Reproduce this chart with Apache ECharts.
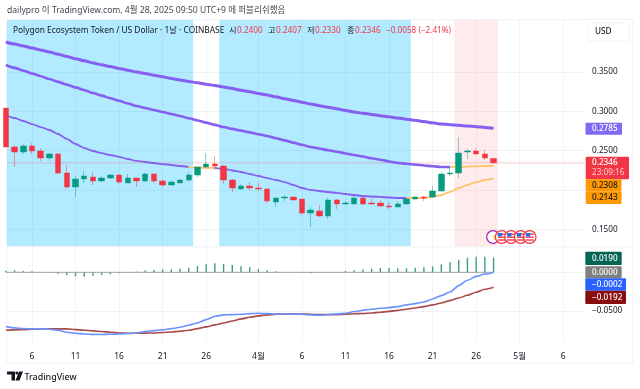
<!DOCTYPE html>
<html><head><meta charset="utf-8">
<style>html,body{margin:0;padding:0;background:#fff}#c{width:640px;height:389px}</style>
<script src="https://cdn.jsdelivr.net/npm/echarts@6/dist/echarts.min.js"></script>
</head><body><div id="c"></div>
<script>
const opens=[.3042,.2546,.2482,.2559,.2495,.2406,.2457,.2215,.2037,.2139,.2164,.2113,.2151,.2189,.2088,.2151,.2113,.2202,.2113,.2062,.2088,.2126,.2189,.2291,.2329,.2304,.2126,.2011,.2050,.2024,.2011,.1846,.1897,.1910,.1884,.1706,.1732,.1668,.1872,.1821,.1821,.1897,.1833,.1833,.1795,.1782,.1821,.1884,.1910,.1910,.1986,.2202,.2215,.2482,.2495,.2457,.2400];
const closes=[.2546,.2482,.2559,.2495,.2406,.2457,.2215,.2037,.2139,.2177,.2113,.2151,.2189,.2100,.2151,.2113,.2202,.2113,.2062,.2100,.2126,.2189,.2291,.2329,.2304,.2126,.2024,.2050,.2024,.2011,.1859,.1897,.1910,.1872,.1706,.1744,.1668,.1872,.1821,.1833,.1897,.1821,.1821,.1795,.1782,.1821,.1884,.1910,.1897,.1986,.2202,.2215,.2469,.2495,.2457,.2406,.2346];
const highs=[.3042,.2571,.2584,.2597,.2533,.2469,.2469,.2317,.2177,.2240,.2228,.2177,.2202,.2202,.2202,.2151,.2215,.2215,.2139,.2126,.2139,.2228,.2291,.2469,.2431,.2317,.2139,.2075,.2100,.2088,.2024,.1910,.1935,.1910,.1884,.1782,.1808,.1897,.1884,.1859,.1922,.1922,.1884,.1872,.1846,.1859,.1897,.1922,.1922,.2050,.2228,.2291,.2673,.2520,.2533,.2508,.2407];
const lows=[.2546,.2291,.2457,.2457,.2368,.2368,.2202,.2011,.1910,.2088,.2062,.2100,.2139,.2075,.2088,.2037,.2100,.2088,.2037,.2050,.2088,.2100,.2164,.2279,.2253,.2075,.1973,.1999,.1999,.1986,.1833,.1782,.1859,.1859,.1681,.1528,.1655,.1630,.1757,.1808,.1821,.1808,.1808,.1782,.1757,.1782,.1808,.1872,.1859,.1897,.1973,.2177,.2151,.2393,.2444,.2380,.2330];
const maSlow=[.3882,.3856,.3831,.3805,.3780,.3754,.3726,.3698,.3670,.3642,.3615,.3592,.3569,.3546,.3523,.3500,.3480,.3459,.3439,.3418,.3398,.3380,.3362,.3345,.3327,.3309,.3289,.3268,.3248,.3227,.3207,.3184,.3161,.3139,.3116,.3093,.3072,.3052,.3032,.3011,.2991,.2976,.2961,.2945,.2930,.2915,.2900,.2885,.2869,.2854,.2838,.2830,.2822,.2813,.2805,.2795,.2785];
const maMid=[.3589,.3553,.3518,.3482,.3447,.3411,.3375,.3340,.3304,.3269,.3233,.3200,.3167,.3134,.3100,.3067,.3042,.3016,.2991,.2965,.2940,.2912,.2884,.2856,.2828,.2800,.2777,.2754,.2732,.2709,.2686,.2658,.2630,.2602,.2574,.2546,.2526,.2505,.2485,.2464,.2444,.2424,.2403,.2383,.2362,.2342,.2332,.2322,.2311,.2301,.2291,.2291,.2293,.2296,.2300,.2304,.2308];
const maFast=[.2953,.2915,.2877,.2838,.2800,.2762,.2711,.2648,.2584,.2533,.2495,.2469,.2444,.2419,.2393,.2368,.2355,.2342,.2329,.2317,.2304,.2291,.2285,.2279,.2279,.2266,.2247,.2228,.2202,.2177,.2151,.2126,.2100,.2062,.2024,.1999,.1986,.1973,.1961,.1948,.1935,.1922,.1916,.1910,.1903,.1897,.1897,.1897,.1897,.1910,.1935,.1973,.2024,.2062,.2100,.2126,.2143];
const histogram=[.0020,.0026,.0017,.0013,.0004,-.0004,-.0017,-.0039,-.0052,-.0056,-.0043,-.0034,-.0026,-.0013,-.0004,.0009,.0022,.0030,.0039,.0039,.0047,.0060,.0082,.0103,.0116,.0108,.0095,.0077,.0065,.0043,.0026,.0013,.0004,.0002,-.0004,-.0013,-.0004,-.0004,-.0004,.0017,.0026,.0039,.0047,.0056,.0056,.0052,.0052,.0060,.0065,.0077,.0103,.0129,.0163,.0189,.0202,.0202,.0190];
const macdLine=[-.0701,-.0718,-.0727,-.0731,-.0731,-.0735,-.0748,-.0774,-.0787,-.0796,-.0802,-.0804,-.0800,-.0796,-.0791,-.0783,-.0765,-.0753,-.0744,-.0727,-.0710,-.0684,-.0654,-.0611,-.0568,-.0550,-.0546,-.0542,-.0533,-.0529,-.0533,-.0538,-.0538,-.0538,-.0542,-.0550,-.0555,-.0546,-.0538,-.0529,-.0507,-.0490,-.0477,-.0464,-.0456,-.0443,-.0421,-.0404,-.0383,-.0344,-.0301,-.0254,-.0172,-.0103,-.0052,-.0022,-.0002];
const signalLine=[-.0748,-.0744,-.0740,-.0735,-.0733,-.0731,-.0731,-.0731,-.0740,-.0748,-.0757,-.0765,-.0774,-.0783,-.0787,-.0787,-.0785,-.0783,-.0778,-.0770,-.0761,-.0748,-.0727,-.0705,-.0679,-.0654,-.0628,-.0602,-.0581,-.0563,-.0550,-.0542,-.0538,-.0535,-.0538,-.0542,-.0546,-.0546,-.0546,-.0542,-.0535,-.0531,-.0525,-.0516,-.0505,-.0492,-.0477,-.0460,-.0443,-.0421,-.0396,-.0366,-.0331,-.0297,-.0258,-.0219,-.0192];
const zeroLine=[0,0,0,0,0,0,0,0,0,0,0,0,0,0,0,0,0,0,0,0,0,0,0,0,0,0,0,0,0,0,0,0,0,0,0,0,0,0,0,0,0,0,0,0,0,0,0,0,0,0,0,0,0,0,0,0,0];
const xTicks=[3,8,13,18,23,29,34,39,44,49,54,59,64];
const xTickLabels=['6','11','16','21','26','4월','6','11','16','21','26','5월','6'];
const priceGrid=[.15,.20,.25,.30,.35];
const priceLabels=[.15,.25,.30,.35];
const blueZones=[[0,21.5],[24.5,46.5]];
const pinkZones=[[51.5,56.5]];
const currentPrice=.2346;
const titleText='dailypro 이 TradingView.com, 4월 28, 2025 09:50 UTC+9 에 퍼블리쉬했음';
const symbolText='Polygon Ecosystem Token / US Dollar · 1날 · COINBASE';

const FONT='"Noto Sans","Noto Sans CJK KR",sans-serif';
const PURPLE='#8560f0', ORANGE='#ffc266', UP='#089981', DOWN='#f23645';
const X_MIN=.13, X_MAX=66.5;
const pts=(a)=>a.map((v,i)=>[i,v]);
const seg=(a,from,to)=>a.map((v,i)=>[i,(i>=from&&i<=to)?v:null]);
const line=(data,color,width,xi)=>({type:'line',data,xAxisIndex:xi||0,yAxisIndex:xi||0,showSymbol:false,symbol:'none',
  lineStyle:{color,width},itemStyle:{color},silent:true,z:3,smooth:.25,smoothMonotone:'x',animation:false,connectNulls:false});
const xBase=(i,labels)=>({type:'value',gridIndex:i,min:X_MIN,max:X_MAX,
  axisLine:{show:false},axisTick:{show:false,customValues:xTicks},
  splitLine:{show:true,lineStyle:{color:'#f2f3f5',width:1}},
  axisLabel:labels?{show:true,customValues:xTicks,margin:9,fontSize:8.5,fontFamily:FONT,color:'#131722',
     hideOverlap:false,formatter:v=>xTickLabels[xTicks.indexOf(v)]}:{show:false}});

const tag=(x,y,w,h,bg,txt,fg,tx)=>[
 {type:'rect',shape:{x,y,width:w,height:h,r:1},style:{fill:bg},z:20},
 {type:'text',x:tx||592,y:y+h/2,z:21,style:{text:txt,fill:fg||'#fff',font:'500 8.2px '+FONT,verticalAlign:'middle'}}];
const t=(x,y,txt,fill,size,weight)=>({type:'text',x,y,z:21,style:{text:txt,fill:fill,font:(weight||'400')+' '+(size||8.2)+'px '+FONT,verticalAlign:'middle'}});

const legend=[[229,'시','#131722'],[237,'0.2400',DOWN],[268,'고','#131722'],[276,'0.2407',DOWN],[307,'저','#131722'],[315,'0.2330',DOWN],[347,'종','#131722'],[355,'0.2346',DOWN],[386,'−0.0058 (−2.41%)',DOWN]];

const flags=[501.7,511,520.7,529.7];
const eventIcons=[
 {type:'circle',shape:{cx:493,cy:237,r:6.3},style:{fill:'#fff',stroke:'#9c27b0',lineWidth:1.2},z:15},
 {type:'text',x:491,y:237,z:15,style:{text:'⚡',fill:'#9c27b0',font:'7px '+FONT,verticalAlign:'middle'}}
];
flags.forEach(cx=>{
 eventIcons.push({type:'circle',shape:{cx,cy:237,r:6.3},style:{fill:'#fff',stroke:DOWN,lineWidth:1.2},z:15});
 eventIcons.push({type:'rect',shape:{x:cx-4,y:233.5,width:8,height:1.4},style:{fill:DOWN},z:16});
 eventIcons.push({type:'rect',shape:{x:cx-4,y:236.5,width:8,height:1.4},style:{fill:DOWN},z:16});
 eventIcons.push({type:'rect',shape:{x:cx-4,y:239.3,width:8,height:1.4},style:{fill:DOWN},z:16});
 eventIcons.push({type:'rect',shape:{x:cx-4,y:233,width:4.5,height:3.5},style:{fill:'#2f6ee0'},z:17});
});

const graphics=[
 {type:'rect',shape:{x:7,y:19.5,width:625.5,height:343.5},style:{fill:'none',stroke:'#f0f3fa',lineWidth:1},z:1},
 {type:'line',shape:{x1:7,y1:246.8,x2:632,y2:246.8},style:{stroke:'#eef0f4',lineWidth:1},z:1},
 t(7,10.5,titleText,'#434651',8.55),
 t(13,31,symbolText,'#131722',8.35),
 ...legend.map(l=>t(l[0],31,l[1],l[2],8.2)),
 {type:'rect',shape:{x:587.7,y:22.7,width:41.6,height:18.3,r:3},style:{fill:'#fff',stroke:'#f0f3fa',lineWidth:1},z:20},
 t(595,32,'USD','#131722',8.2,'500'),
 ...tag(585.5,122.7,36.5,12,'#7e6bf2','0.2785'),
 {type:'rect',shape:{x:585.7,y:156.7,width:43.3,height:22.6,r:1},style:{fill:DOWN},z:20},
 t(592,163,'0.2346','#fff',8.2,'500'),
 t(592,172.8,'23:09:16','#fcd0d4',8.2),
 ...tag(585.7,179.3,35.8,12,'#ff9800','0.2308','#1a1a1a'),
 ...tag(585.7,191.3,35.8,12.7,'#ff9800','0.2143','#1a1a1a'),
 ...tag(585.3,251.7,36.4,13.3,'#056656','0.0190'),
 ...tag(585.3,266.3,36.4,12,'#808080','0.0000'),
 ...tag(585.3,278.3,40.7,12.4,'#2962ff','−0.0002'),
 ...tag(585.3,290.7,40.7,13.3,'#880e0e','−0.0192'),
 t(592,311,'−0.0500','#131722',8.2),
 ...eventIcons,
 {type:'polygon',shape:{points:[[7,371.5],[15,371.5],[15,380.5],[11.5,380.5],[11.5,374.5],[7,374.5]]},style:{fill:'#131722'},z:20},
 {type:'circle',shape:{cx:16.8,cy:373,r:1.5},style:{fill:'#131722'},z:20},
 {type:'polygon',shape:{points:[[19,371.5],[23,371.5],[19.5,380.5],[15.5,380.5]]},style:{fill:'#131722'},z:20},
 t(24.5,377,'TradingView','#131722',8.9,'500')
];

const option={
 animation:false,backgroundColor:'#fff',
 grid:[{left:7,top:20,width:578,height:226},{left:7,top:247,width:578,height:96}],
 xAxis:[xBase(0,false),xBase(1,true)],
 yAxis:[
  {type:'value',gridIndex:0,position:'right',min:.1286,max:.4162,axisLine:{show:false},
   axisTick:{show:false,customValues:priceGrid},splitLine:{show:true,lineStyle:{color:'#f2f3f5'}},
   axisLabel:{show:true,customValues:priceLabels,margin:7,fontSize:8.2,fontFamily:FONT,color:'#131722',formatter:v=>v.toFixed(4)}},
  {type:'value',gridIndex:1,position:'right',min:-.0913,max:.0327,axisLine:{show:false},
   axisTick:{show:false,customValues:[-.05,0]},splitLine:{show:true,lineStyle:{color:'#f2f3f5'}},
   axisLabel:{show:false}}
 ],
 series:[
  {type:'line',data:[],xAxisIndex:0,yAxisIndex:0,silent:true,z:1,
   markArea:{silent:true,z:1,itemStyle:{color:'rgba(0,188,255,.3)'},data:blueZones.map(b=>[{xAxis:b[0]},{xAxis:b[1]}])}},
  {type:'line',data:[],xAxisIndex:0,yAxisIndex:0,silent:true,z:1,
   markArea:{silent:true,z:1,itemStyle:{color:'rgba(242,54,69,.1)'},data:pinkZones.map(b=>[{xAxis:b[0]},{xAxis:b[1]}])}},
  {type:'line',data:[[X_MIN,currentPrice],[X_MAX,currentPrice]],xAxisIndex:0,yAxisIndex:0,silent:true,z:2,showSymbol:false,symbol:'none',
   lineStyle:{color:'rgba(242,54,69,.14)',width:2}},
  line(pts(maSlow),PURPLE,3),
  line(seg(maMid,0,51),PURPLE,2.6),
  line(seg(maMid,51,56),ORANGE,1.8),
  line(seg(maFast,0,21),PURPLE,1.8),
  line(seg(maFast,21,24),ORANGE,1.8),
  line(seg(maFast,24,46),PURPLE,1.8),
  line(seg(maFast,46,56),ORANGE,1.8),
  {type:'candlestick',xAxisIndex:0,yAxisIndex:0,z:5,silent:true,barWidth:6,
   data:opens.map((o,i)=>[i,o,closes[i],lows[i],highs[i]]),
   itemStyle:{color:UP,color0:DOWN,borderColor:'rgba(8,153,129,.45)',borderColor0:'rgba(242,54,69,.45)',borderWidth:1}},
  line(pts(zeroLine),'#9a9c9e',1,1),
  {type:'bar',xAxisIndex:1,yAxisIndex:1,barWidth:1.4,silent:true,z:3,data:pts(histogram),itemStyle:{color:'#3f9c8b'}},
  line(pts(signalLine),'#a84a4a',1.6,1),
  line(pts(macdLine),'#6b93ff',1.6,1)
 ],
 graphic:graphics
};
const chart=echarts.init(document.getElementById('c'),null,{renderer:'canvas'});
chart.setOption(option);
</script></body></html>
